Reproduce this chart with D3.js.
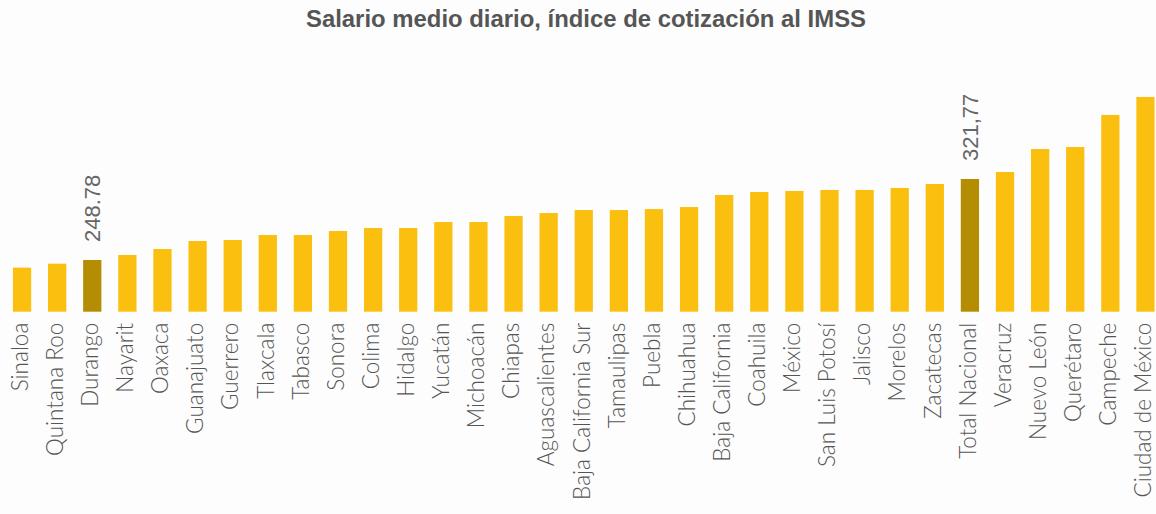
<!DOCTYPE html>
<html>
<head>
<meta charset="utf-8">
<script src="https://cdn.jsdelivr.net/npm/d3@7"></script>
<style>
  html, body { margin: 0; padding: 0; background: #fdfdfd; }
  svg { display: block; }
</style>
</head>
<body>
<svg id="chart" width="1156" height="514"></svg>
<script>
// Salario medio diario por entidad (pesos)
const states = [
  "Sinaloa", "Quintana Roo", "Durango", "Nayarit", "Oaxaca", "Guanajuato",
  "Guerrero", "Tlaxcala", "Tabasco", "Sonora", "Colima", "Hidalgo",
  "Yucatán", "Michoacán", "Chiapas", "Aguascalientes", "Baja California Sur",
  "Tamaulipas", "Puebla", "Chihuahua", "Baja California", "Coahuila",
  "México", "San Luis Potosí", "Jalisco", "Morelos", "Zacatecas",
  "Total Nacional", "Veracruz", "Nuevo León", "Querétaro", "Campeche",
  "Ciudad de México"
];
const salaries = [
  241.9, 245.5, 248.78, 253.3, 258.7, 265.9,
  266.8, 271.3, 271.3, 274.9, 277.6, 277.6,
  283.0, 283.0, 288.4, 291.1, 293.8,
  293.8, 294.7, 296.5, 307.4, 310.1,
  311.0, 311.9, 311.9, 313.7, 317.3,
  321.77, 328.1, 348.8, 350.6, 379.5,
  395.7
];
// Bars carrying a value label, with the text shown
const labelled = ["Durango", "Total Nacional"];
const labelText = ["248.78", "321,77"];
const title = "Salario medio diario, índice de cotización al IMSS";

const svg = d3.select("#chart");
const baseY = 311.7;

const x = d3.scaleBand()
  .domain(states)
  .range([4.5, 1163])
  .paddingInner(0.48)
  .paddingOuter(0.24);

const y = d3.scaleLinear()
  .domain([202.2, 400])
  .range([baseY, baseY - (400 - 202.2) * 1.1097]);

svg.append("text")
  .attr("x", 586)
  .attr("y", 27)
  .attr("text-anchor", "middle")
  .attr("font-family", "'Liberation Sans', Arial, sans-serif")
  .attr("font-weight", "bold")
  .attr("font-size", 23)
  .attr("textLength", 560)
  .attr("lengthAdjust", "spacingAndGlyphs")
  .attr("fill", "#555")
  .text(title);

svg.append("g")
  .selectAll("rect")
  .data(states)
  .join("rect")
  .attr("x", d => x(d))
  .attr("width", x.bandwidth())
  .attr("y", (d, i) => y(salaries[i]))
  .attr("height", (d, i) => baseY - y(salaries[i]))
  .attr("fill", d => labelled.includes(d) ? "#b48d03" : "#fbbf10");

// Value labels above highlighted bars
svg.append("g")
  .selectAll("text")
  .data(labelled)
  .join("text")
  .attr("transform", (d, i) => {
    const cx = x(d) + x.bandwidth() / 2;
    const top = y(salaries[states.indexOf(d)]) - 18;
    return `translate(${cx},${top}) rotate(-90)`;
  })
  .attr("dy", "0.36em")
  .attr("font-family", "'Liberation Sans', Arial, sans-serif")
  .attr("font-size", 22)
  .attr("fill", "#666")
  .text((d, i) => labelText[i]);

// Category axis, labels rotated
const xAxis = d3.axisBottom(x).tickSize(0).tickPadding(0);
const gx = svg.append("g")
  .attr("transform", `translate(0,${baseY})`)
  .call(xAxis);
gx.select(".domain").remove();
gx.selectAll("text")
  .attr("transform", "translate(-1,11) rotate(-90)")
  .attr("x", 0)
  .attr("y", 0)
  .attr("dy", "0.3em")
  .attr("text-anchor", "end")
  .attr("font-family", "Lato, 'Open Sans', sans-serif")
  .attr("font-weight", 300)
  .attr("font-size", 22.5)
  .attr("fill", "#555");
</script>
</body>
</html>
